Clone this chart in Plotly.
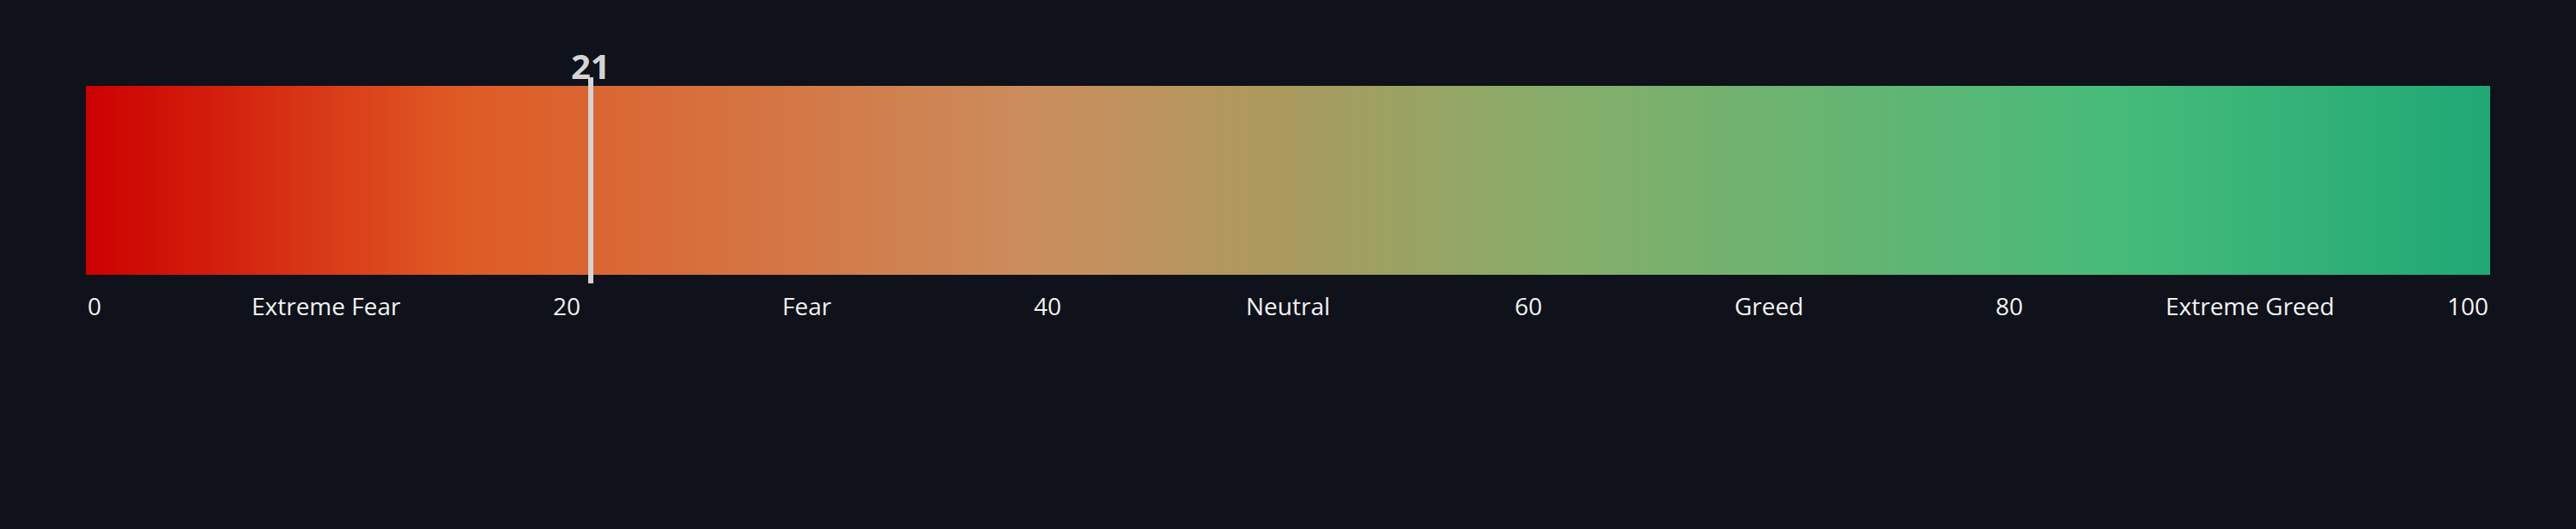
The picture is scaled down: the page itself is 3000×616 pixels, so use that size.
import plotly.graph_objects as go

# Fear & greed reading
score = 21

# Scale labels under the bar
label_values = [0, 10, 20, 30, 40, 50, 60, 70, 80, 90, 100]
label_texts = ["0", "Extreme Fear", "20", "Fear", "40", "Neutral", "60", "Greed", "80", "Extreme Greed", "100"]

# Gradient stops
grad_stops = [0, 15.5, 39.5, 50, 62, 84.5, 100]
grad_colors = ["#cc0000", "#df5a24", "#cb8d5e", "#aa9a5e", "#84ae6a", "#46bb7a", "#20a875"]

bg = "#0f121a"

fig = go.Figure()
fig.add_trace(go.Heatmap(
    x=grad_stops, y=[0.5], z=[grad_stops],
    zmin=0, zmax=100, zsmooth="best", showscale=False, hoverinfo="skip",
    colorscale=[[s / 100, c] for s, c in zip(grad_stops, grad_colors)],
))

pad = 1 / 22
fig.add_trace(go.Scatter(
    x=[score, score], y=[-pad, 1 + pad], mode="lines",
    line=dict(color="#d4d4d4", width=6), hoverinfo="skip", showlegend=False,
))

fig.add_annotation(
    x=score, y=1, yref="paper", yanchor="bottom", xanchor="center",
    text=f"<b>{score}</b>", showarrow=False, yshift=-16,
    font=dict(family="Open Sans", size=40, color="#d4d4d4"),
)

for v, t in zip(label_values, label_texts):
    anchor = "left" if v == label_values[0] else "right" if v == label_values[-1] else "center"
    fig.add_annotation(
        x=v, y=0, yref="paper", yanchor="top", xanchor=anchor,
        text=t, showarrow=False, yshift=-5,
        font=dict(family="Open Sans", size=28, color="#f2f2f2"),
    )

fig.update_layout(
    width=3000, height=616, paper_bgcolor=bg, plot_bgcolor=bg,
    margin=dict(l=100, r=100, t=90, b=286),
    xaxis=dict(range=[0, 100], visible=False, fixedrange=True),
    yaxis=dict(range=[-pad, 1 + pad], visible=False, fixedrange=True),
    showlegend=False,
)
fig.write_html("out.html", config={"displayModeBar": False},
               post_script="document.body.style.margin='0';document.body.style.background='%s';" % bg)
